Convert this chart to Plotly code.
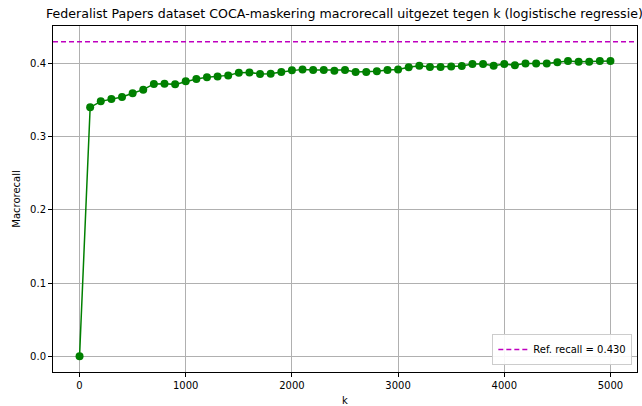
import plotly.graph_objects as go

# k values (number of features kept) and the resulting macro recall
k_values = list(range(0, 5001, 100))
macrorecall = [
    0.0, 0.3403, 0.3485, 0.3518, 0.3545, 0.3595, 0.3645, 0.3723, 0.3727, 0.3717,
    0.3758, 0.3791, 0.3813, 0.3823, 0.3840, 0.3877, 0.3881, 0.3859, 0.3863, 0.3887,
    0.3909, 0.3922, 0.3914, 0.3914, 0.3904, 0.3914, 0.3887, 0.3887, 0.3895, 0.3914,
    0.3922, 0.3950, 0.3973, 0.3955, 0.3955, 0.3963, 0.3969, 0.3996, 0.3996, 0.3973,
    0.3996, 0.3977, 0.4004, 0.4004, 0.4004, 0.4018, 0.4037, 0.4027, 0.4027, 0.4037,
    0.4037,
]
ref_recall = 0.430
x_ticks = [0, 1000, 2000, 3000, 4000, 5000]
y_ticks = [0.0, 0.1, 0.2, 0.3, 0.4]
title_text = "Federalist Papers dataset COCA-maskering macrorecall uitgezet tegen k (logistische regressie)"

FONT = "DejaVu Sans"

fig = go.Figure()

fig.add_trace(go.Scatter(
    x=k_values, y=macrorecall, mode="lines+markers",
    line=dict(color="#008000", width=1.5),
    marker=dict(color="#008000", size=8, line=dict(width=0)),
    showlegend=False,
))

fig.add_trace(go.Scatter(
    x=[-250, 5250], y=[ref_recall, ref_recall], mode="lines",
    line=dict(color="#BF00BF", width=1.5, dash="5px,3px"),
    name=f"Ref. recall = {ref_recall:.3f}",
))

fig.update_layout(
    width=642, height=406,
    margin=dict(l=53, r=5, t=26, b=34),
    paper_bgcolor="white", plot_bgcolor="white",
    font=dict(family=FONT, size=10, color="black"),
    legend=dict(
        x=0.992, y=0.02, xanchor="right", yanchor="bottom",
        bgcolor="rgba(255,255,255,0.9)", bordercolor="#cccccc", borderwidth=1,
        font=dict(family=FONT, size=10), itemwidth=30,
    ),
    # title over the axes, running past the right edge of the figure
    annotations=[dict(
        text=title_text, xref="paper", yref="paper",
        x=0.0, y=1.0, xanchor="left", yanchor="bottom", xshift=-9, yshift=3,
        showarrow=False, font=dict(family=FONT, size=12.6, color="black"),
    )],
)

fig.update_xaxes(
    range=[-250, 5250], tickvals=x_ticks, ticks="outside", ticklen=4,
    tickcolor="black", showgrid=True, gridcolor="#b0b0b0", gridwidth=1,
    showline=True, linecolor="black", linewidth=1, mirror=True, zeroline=False,
    automargin=False,
    title=dict(text="k", font=dict(family=FONT, size=10), standoff=8),
)
fig.update_yaxes(
    range=[-0.0215, 0.4515], tickvals=y_ticks, tickformat=".1f", ticks="outside",
    ticklen=4, tickcolor="black", showgrid=True, gridcolor="#b0b0b0", gridwidth=1,
    showline=True, linecolor="black", linewidth=1, mirror=True, zeroline=False,
    automargin=False,
    title=dict(text="Macrorecall", font=dict(family=FONT, size=10), standoff=7),
)

fig.write_html("out.html")
